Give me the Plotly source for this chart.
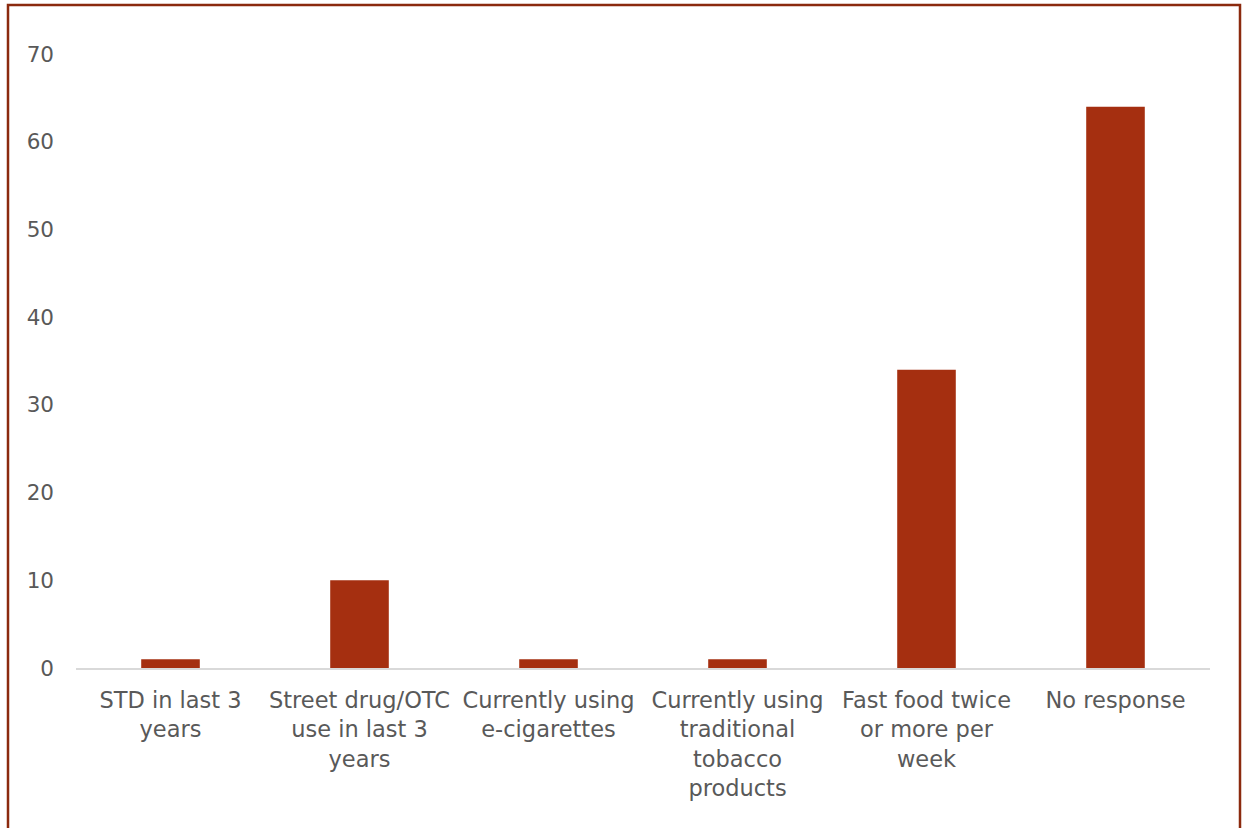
import plotly.graph_objects as go

categories = [
    "STD in last 3<br>years",
    "Street drug/OTC<br>use in last 3<br>years",
    "Currently using<br>e-cigarettes",
    "Currently using<br>traditional<br>tobacco<br>products",
    "Fast food twice<br>or more per<br>week",
    "No response",
]
values = [1, 10, 1, 1, 34, 64]
y_ticks = [0, 10, 20, 30, 40, 50, 60, 70]

W, H = 1244, 828
L, R, T, B = 76, 34, 54, 160
pw, ph = W - L - R, H - T - B

def px_x(x):
    return (x - L) / pw

def px_y(y):
    return (H - B - y) / ph

fig = go.Figure(go.Bar(
    x=categories, y=values,
    marker=dict(color="#A52F10", line=dict(width=0)),
))

fig.update_layout(
    width=W, height=H,
    margin=dict(l=L, r=R, t=T, b=B),
    paper_bgcolor="white", plot_bgcolor="white",
    font=dict(family="DejaVu Sans, Open Sans, sans-serif", size=22, color="#595959"),
    bargap=0.69,
    showlegend=False,
    xaxis=dict(showgrid=False, showline=True, linecolor="#D9D9D9", linewidth=2,
               ticks="", ticklabelstandoff=11, tickfont=dict(size=22.5, color="#595959")),
    yaxis=dict(range=[0, 70], tickvals=y_ticks, showgrid=False, zeroline=False,
               showline=False, ticks="", ticklabelstandoff=21,
               tickfont=dict(size=21.5, color="#595959")),
    shapes=[dict(type="rect", xref="paper", yref="paper",
                 x0=px_x(8), x1=px_x(1240), y0=px_y(860), y1=px_y(5),
                 line=dict(color="#8B2A0E", width=2.5), fillcolor="rgba(0,0,0,0)",
                 layer="above")],
)

fig.write_html("out.html", config={"displayModeBar": False},
               post_script="document.body.style.margin='0';")
